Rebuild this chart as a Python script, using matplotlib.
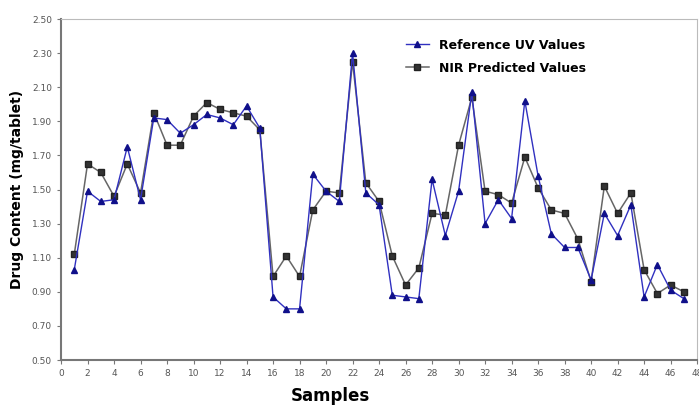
import numpy as np
import matplotlib.pyplot as plt

samples = np.arange(1, 48)

uv_values = [1.03, 1.49, 1.43, 1.44, 1.75, 1.44, 1.92, 1.91, 1.83, 1.88,
             1.94, 1.92, 1.88, 1.99, 1.86, 0.87, 0.80, 0.80, 1.59, 1.49,
             1.43, 2.30, 1.48, 1.41, 0.88, 0.87, 0.86, 1.56, 1.23, 1.49,
             2.07, 1.30, 1.44, 1.33, 2.02, 1.58, 1.24, 1.16, 1.16, 0.97,
             1.36, 1.23, 1.41, 0.87, 1.06, 0.91, 0.86]

nir_values = [1.12, 1.65, 1.60, 1.46, 1.65, 1.48, 1.95, 1.76, 1.76, 1.93,
              2.01, 1.97, 1.95, 1.93, 1.85, 0.99, 1.11, 0.99, 1.38, 1.49,
              1.48, 2.25, 1.54, 1.43, 1.11, 0.94, 1.04, 1.36, 1.35, 1.76,
              2.04, 1.49, 1.47, 1.42, 1.69, 1.51, 1.38, 1.36, 1.21, 0.96,
              1.52, 1.36, 1.48, 1.03, 0.89, 0.94, 0.90]


def main():
    fig = plt.figure(figsize=(6.99, 4.08), dpi=100)
    ax = fig.add_axes([0.0873, 0.1176, 0.91, 0.8358])

    ax.plot(samples, nir_values, color='#666666', lw=1.1, marker='s',
            ms=4.5, mfc='#333333', mec='#222222', label="NIR Predicted Values")
    ax.plot(samples, uv_values, color='#3030c0', lw=1.0, marker='^',
            ms=4, mfc='#10108a', mec='#10108a', label="Reference UV Values")

    ax.set_xlim(0, 48)
    ax.set_ylim(0.5, 2.5)
    ax.set_xticks(np.arange(0, 49, 2))
    ax.set_yticks(np.arange(0.5, 2.51, 0.2))
    ax.yaxis.set_major_formatter(plt.FormatStrFormatter('%.2f'))
    ax.tick_params(labelsize=6.5, labelcolor='#555555', length=3, color='#777777')

    for s in ['left', 'bottom']:
        ax.spines[s].set_color('#777777')
        ax.spines[s].set_linewidth(1.5)
    for s in ['top', 'right']:
        ax.spines[s].set_color('#bbbbbb')

    ax.set_xlabel("Samples", fontsize=12, fontweight='bold', labelpad=3)
    ax.xaxis.set_label_coords(0.423, -0.08)
    ax.set_ylabel("Drug Content (mg/tablet)", fontsize=10, fontweight='bold')
    ax.yaxis.set_label_coords(-0.058, 0.5)

    handles, labels = ax.get_legend_handles_labels()
    ax.legend(handles[::-1], labels[::-1], loc='upper left',
              bbox_to_anchor=(0.525, 0.975), frameon=False,
              prop={'size': 9, 'weight': 'bold'}, handlelength=1.8,
              labelspacing=0.8)

    fig.savefig('out.png', dpi=100)


if __name__ == "__main__":
    main()
